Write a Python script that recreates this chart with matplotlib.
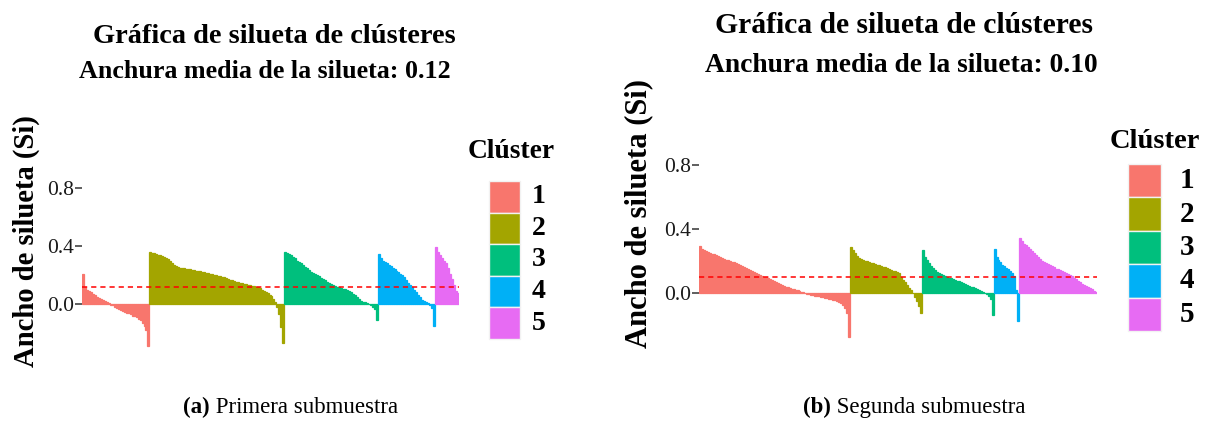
import numpy as np
import matplotlib
matplotlib.use("Agg")
import matplotlib.pyplot as plt
from matplotlib.patches import Rectangle
from matplotlib.text import Annotation

plt.rcParams["font.family"] = ["Liberation Serif", "DejaVu Serif"]

# ---------------- data ----------------
cluster_labels = ["1", "2", "3", "4", "5"]
cluster_colors = ["#F8766D", "#A3A500", "#00BF7D", "#00B0F6", "#E76BF3"]

# First subsample: silhouette widths per cluster, sorted
a_c1 = [0.21, 0.12, 0.10, 0.09, 0.08, 0.07, 0.06, 0.05, 0.04, 0.035, 0.03, 0.02,
        0.015, 0.01, -0.005, -0.01, -0.02, -0.03, -0.035, -0.04, -0.05, -0.055,
        -0.06, -0.065, -0.07, -0.08, -0.085, -0.09, -0.10, -0.11, -0.13, -0.15,
        -0.18, -0.29]
a_c2 = [0.36, 0.355, 0.35, 0.345, 0.34, 0.335, 0.33, 0.325, 0.32, 0.31, 0.30,
        0.285, 0.27, 0.26, 0.255, 0.25, 0.248, 0.245, 0.243, 0.24, 0.238, 0.236,
        0.234, 0.23, 0.228, 0.225, 0.222, 0.22, 0.217, 0.213, 0.21, 0.207, 0.203,
        0.20, 0.196, 0.192, 0.188, 0.184, 0.178, 0.172, 0.168, 0.164, 0.16, 0.155,
        0.15, 0.147, 0.144, 0.14, 0.137, 0.133, 0.13, 0.126, 0.122, 0.118, 0.115,
        0.108, 0.10, 0.092, 0.083, 0.074, 0.064, 0.052, 0.035, 0.012, -0.02,
        -0.07, -0.16, -0.27]
a_c3 = [0.36, 0.355, 0.345, 0.335, 0.325, 0.315, 0.30, 0.29, 0.28, 0.268, 0.257,
        0.245, 0.232, 0.22, 0.212, 0.205, 0.198, 0.19, 0.18, 0.172, 0.165, 0.155,
        0.145, 0.136, 0.128, 0.122, 0.118, 0.114, 0.11, 0.106, 0.103, 0.097,
        0.09, 0.083, 0.072, 0.06, 0.045, 0.032, 0.022, 0.015, 0.011, 0.005,
        -0.002, -0.008, -0.018, -0.035, -0.11]
a_c4 = [0.345, 0.32, 0.30, 0.29, 0.28, 0.27, 0.26, 0.248, 0.238, 0.228, 0.218,
        0.21, 0.198, 0.185, 0.165, 0.148, 0.13, 0.115, 0.095, 0.08, 0.06, 0.045,
        0.03, 0.02, 0.015, 0.008, -0.005, -0.025, -0.15]
a_c5 = [0.39, 0.36, 0.34, 0.32, 0.30, 0.28, 0.25, 0.21, 0.17, 0.13, 0.09, 0.075]
a_mean = 0.12

# Second subsample
b_c1 = [0.295, 0.275, 0.268, 0.262, 0.258, 0.254, 0.248, 0.243, 0.238, 0.233,
        0.228, 0.222, 0.216, 0.211, 0.206, 0.202, 0.197, 0.193, 0.189, 0.183,
        0.177, 0.171, 0.165, 0.159, 0.153, 0.147, 0.141, 0.135, 0.129, 0.123,
        0.117, 0.111, 0.105, 0.099, 0.093, 0.087, 0.081, 0.075, 0.07, 0.064,
        0.058, 0.052, 0.046, 0.041, 0.037, 0.033, 0.029, 0.025, 0.021, 0.018,
        0.014, 0.01, 0.006, 0.002, -0.002, -0.006, -0.009, -0.012, -0.014,
        -0.016, -0.019, -0.021, -0.024, -0.027, -0.03, -0.033, -0.036, -0.039,
        -0.042, -0.046, -0.052, -0.062, -0.072, -0.09, -0.12, -0.27]
b_c2 = [0.29, 0.27, 0.25, 0.235, 0.222, 0.214, 0.208, 0.204, 0.20, 0.196, 0.192,
        0.188, 0.184, 0.18, 0.176, 0.172, 0.167, 0.162, 0.157, 0.152, 0.146,
        0.141, 0.137, 0.133, 0.125, 0.10, 0.085, 0.07, 0.055, 0.035, 0.018,
        0.004, -0.025, -0.05, -0.08, -0.125]
b_c3 = [0.27, 0.23, 0.21, 0.19, 0.172, 0.158, 0.145, 0.132, 0.125, 0.118, 0.113,
        0.108, 0.103, 0.098, 0.093, 0.088, 0.083, 0.078, 0.074, 0.07, 0.065,
        0.06, 0.054, 0.047, 0.042, 0.037, 0.033, 0.027, 0.021, 0.015, 0.009,
        0.004, -0.003, -0.015, -0.035, -0.135]
b_c4 = [0.28, 0.23, 0.21, 0.195, 0.18, 0.17, 0.16, 0.15, 0.14, 0.125, 0.11,
        0.02, -0.17]
b_c5 = [0.345, 0.33, 0.31, 0.30, 0.287, 0.275, 0.262, 0.25, 0.238, 0.226, 0.214,
        0.202, 0.194, 0.187, 0.181, 0.175, 0.169, 0.162, 0.155, 0.149, 0.144,
        0.139, 0.134, 0.129, 0.123, 0.116, 0.107, 0.098, 0.088, 0.079, 0.07,
        0.061, 0.052, 0.045, 0.039, 0.033, 0.025, 0.016, 0.006]
b_mean = 0.10

yticks = [0.0, 0.4, 0.8]
ytick_labels = ["0.0", "0.4", "0.8"]

title_text = "Gráfica de silueta de clústeres"
subtitle_a = "Anchura media de la silueta: 0.12"
subtitle_b = "Anchura media de la silueta: 0.10"
ylabel_text = "Ancho de silueta (Si)"
legend_title = "Clúster"

W, H = 1218, 426
fig = plt.figure(figsize=(W / 100, H / 100), dpi=100)


def fx(px):
    return px / W


def fy(py):
    return 1 - py / H


def silhouette_panel(rect, clusters, mean_value, ylim):
    ax = fig.add_axes(rect)
    start = 0
    for vals, col in zip(clusters, cluster_colors):
        x = np.arange(start, start + len(vals)) + 0.5
        ax.bar(x, vals, width=1.0, color=col, edgecolor=col, linewidth=0.9)
        start += len(vals)
    ax.set_xlim(0, start)
    ax.set_ylim(*ylim)
    ax.axhline(mean_value, color="#FF0000", lw=1.1, ls=(0, (3.4, 2.6)))
    for s in ax.spines.values():
        s.set_visible(False)
    ax.set_xticks([])
    ax.set_yticks(yticks)
    ax.set_yticklabels(ytick_labels)
    ax.tick_params(axis="y", length=5, width=1.1, color="#333333", pad=0.5,
                   labelsize=15.5, labelcolor="#1a1a1a")
    return ax


# left panel: zero at y=304 px, 145 px per unit
ya = (-0.33, 0.88)
top_a, bot_a = 304 - 0.88 * 145, 304 + 0.33 * 145
silhouette_panel([fx(82), 1 - bot_a / H, fx(459) - fx(82), (bot_a - top_a) / H],
                 [a_c1, a_c2, a_c3, a_c4, a_c5], a_mean, ya)

# right panel: zero at y=293 px, 160 px per unit
yb = (-0.30, 0.88)
top_b, bot_b = 293.3 - 0.88 * 160, 293.3 + 0.30 * 160
silhouette_panel([fx(699), 1 - bot_b / H, fx(1097) - fx(699), (bot_b - top_b) / H],
                 [b_c1, b_c2, b_c3, b_c4, b_c5], b_mean, yb)

# titles
fig.text(fx(274), fy(43), title_text, ha="center", va="baseline",
         fontsize=20.4, fontweight="bold")
fig.text(fx(265), fy(78), subtitle_a, ha="center", va="baseline",
         fontsize=18.7, fontweight="bold")
fig.text(fx(904), fy(33), title_text, ha="center", va="baseline",
         fontsize=21.3, fontweight="bold")
fig.text(fx(901), fy(72), subtitle_b, ha="center", va="baseline",
         fontsize=19.8, fontweight="bold")

# y labels
fig.text(fx(26), fy(241), ylabel_text, rotation=90, ha="center", va="center",
         fontsize=20.6, fontweight="bold")
fig.text(fx(639), fy(214), ylabel_text, rotation=90, ha="center", va="center",
         fontsize=22, fontweight="bold")


def draw_legend(title_x, title_base, tsize, kx0, kx1, ky0, ky1, lab_x, lsize):
    fig.text(fx(title_x), fy(title_base), legend_title, ha="left",
             va="baseline", fontsize=tsize, fontweight="bold")
    kh = (ky1 - ky0) / len(cluster_labels)
    for i, (lab, col) in enumerate(zip(cluster_labels, cluster_colors)):
        top = ky0 + i * kh
        fig.add_artist(Rectangle((fx(kx0), fy(top + kh)), fx(kx1) - fx(kx0),
                                 kh / H, transform=fig.transFigure,
                                 facecolor=col, edgecolor="#f2f2f2", lw=1.0))
        fig.text(fx(lab_x), fy(top + kh / 2), lab, ha="center", va="center",
                 fontsize=lsize, fontweight="bold")


draw_legend(468, 158, 19.8, 489, 520, 181, 339, 539, 20)
draw_legend(1110, 148, 20.5, 1128, 1161, 164, 331, 1187, 21)


# captions: bold tag followed by regular text
def caption(x0, tag, rest):
    t = fig.text(fx(x0), fy(418), tag, ha="left", va="bottom",
                 fontsize=16.5, fontweight="bold")
    fig.add_artist(Annotation(" " + rest, xy=(1, 0), xycoords=t,
                              ha="left", va="bottom", fontsize=16.5))


caption(183, "(a)", "Primera submuestra")
caption(803, "(b)", "Segunda submuestra")

fig.savefig("out.png", dpi=100, facecolor="white")
